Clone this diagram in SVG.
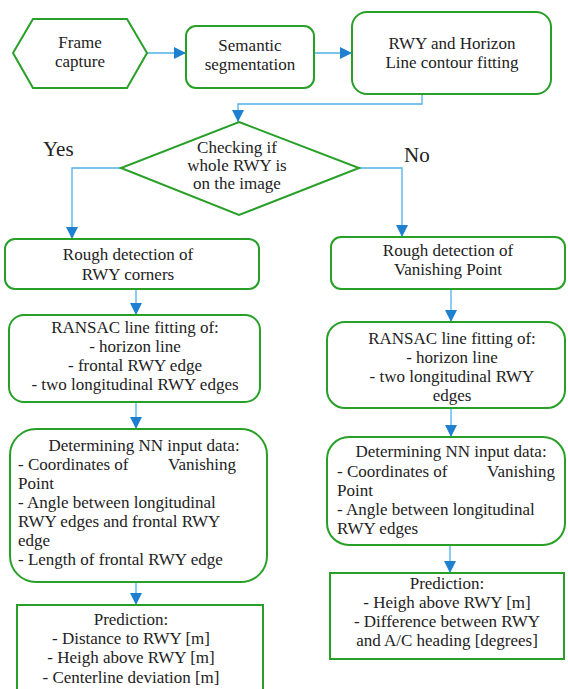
<svg xmlns="http://www.w3.org/2000/svg" width="568" height="689" viewBox="0 0 568 689">
<style>
.n{fill:#fff;stroke:#28a028;stroke-width:2}
.t{font-family:'Liberation Serif',serif;font-size:17px;fill:#222;text-anchor:middle}
.l{text-anchor:start}
.big{font-size:21px}
.c{fill:none;stroke:#4db0e8;stroke-width:1.3;marker-end:url(#ah)}
</style>
<defs>
<marker id="ah" markerUnits="userSpaceOnUse" markerWidth="12" markerHeight="12" refX="12" refY="6" orient="auto">
<path d="M0,0 L12,6 L0,12 Z" fill="#1f80d0"/>
</marker>
</defs>
<rect width="568" height="689" fill="#fff"/>
<g id="connectors">
<path class="c" d="M147,53 H186"/>
<path class="c" d="M314,53 H352"/>
<path class="c" d="M422,94 V104 H238 V122"/>
<path class="c" d="M121,168 H72 V239"/>
<path class="c" d="M359,168 H402 V237"/>
<path class="c" d="M136,289 V315"/>
<path class="c" d="M136,402 V429"/>
<path class="c" d="M136,582 V605"/>
<path class="c" d="M451,289 V322"/>
<path class="c" d="M451,408 V437"/>
<path class="c" d="M450,545 V573"/>
</g>
<g id="frame">
<polygon class="n" points="13,53 33,19 127,19 147,53 127,88 33,88"/>
<text class="t"><tspan x="80" y="48">Frame</tspan><tspan x="80" y="67">capture</tspan></text>
</g>
<g id="semantic">
<rect class="n" x="186" y="26" width="128" height="62" rx="10"/>
<text class="t"><tspan x="250" y="51">Semantic</tspan><tspan x="250" y="70">segmentation</tspan></text>
</g>
<g id="contour">
<rect class="n" x="352" y="12" width="199" height="82" rx="15"/>
<text class="t"><tspan x="452" y="49">RWY and Horizon</tspan><tspan x="452" y="68">Line contour fitting</tspan></text>
</g>
<g id="decision">
<polygon class="n" points="239,122 359,168 239,215 121,168"/>
<text class="t"><tspan x="237" y="153">Checking if</tspan><tspan x="237" y="171">whole RWY is</tspan><tspan x="237" y="189">on the image</tspan></text>
</g>
<g id="labels">
<text class="t l big" x="43" y="156">Yes</text>
<text class="t l big" x="404" y="162">No</text>
</g>
<g id="l1">
<rect class="n" x="5" y="239" width="254" height="50" rx="10"/>
<text class="t"><tspan x="128" y="260">Rough detection of</tspan><tspan x="128" y="280">RWY corners</tspan></text>
</g>
<g id="l2">
<rect class="n" x="9" y="315" width="251" height="87" rx="15"/>
<text class="t"><tspan x="135" y="333">RANSAC line fitting of:</tspan><tspan x="135" y="352">- horizon line</tspan><tspan x="135" y="371">- frontal RWY edge</tspan><tspan x="135" y="390">- two longitudinal RWY edges</tspan></text>
</g>
<g id="l3">
<rect class="n" x="10" y="429" width="257" height="153" rx="26"/>
<text class="t" x="144" y="451">Determining NN input data:</text>
<text class="t l"><tspan x="18" y="470">- Coordinates of</tspan><tspan x="168" y="470">Vanishing</tspan><tspan x="18" y="489">Point</tspan><tspan x="18" y="508">- Angle between longitudinal</tspan><tspan x="18" y="527">RWY edges and frontal RWY</tspan><tspan x="18" y="546">edge</tspan><tspan x="18" y="565">- Length of frontal RWY edge</tspan></text>
</g>
<g id="l4">
<rect class="n" x="17" y="605" width="246" height="100"/>
<text class="t"><tspan x="131" y="625">Prediction:</tspan><tspan x="131" y="644">- Distance to RWY [m]</tspan><tspan x="131" y="663">- Heigh above RWY [m]</tspan><tspan x="131" y="683">- Centerline deviation [m]</tspan></text>
</g>
<g id="r1">
<rect class="n" x="331" y="237" width="234" height="52" rx="10"/>
<text class="t"><tspan x="448" y="256">Rough detection of</tspan><tspan x="448" y="275">Vanishing Point</tspan></text>
</g>
<g id="r2">
<rect class="n" x="327" y="322" width="238" height="86" rx="18"/>
<text class="t"><tspan x="452" y="344">RANSAC line fitting of:</tspan><tspan x="452" y="363">- horizon line</tspan><tspan x="452" y="382">- two longitudinal RWY</tspan><tspan x="452" y="401">edges</tspan></text>
</g>
<g id="r3">
<rect class="n" x="327" y="437" width="238" height="108" rx="22"/>
<text class="t" x="451" y="457">Determining NN input data:</text>
<text class="t l"><tspan x="337" y="477">- Coordinates of</tspan><tspan x="487" y="477">Vanishing</tspan><tspan x="337" y="496">Point</tspan><tspan x="337" y="515">- Angle between longitudinal</tspan><tspan x="337" y="534">RWY edges</tspan></text>
</g>
<g id="r4">
<rect class="n" x="330" y="573" width="234" height="86"/>
<text class="t"><tspan x="447" y="589">Prediction:</tspan><tspan x="447" y="608">- Heigh above RWY [m]</tspan><tspan x="447" y="627">- Difference between RWY</tspan><tspan x="447" y="646">and A/C heading [degrees]</tspan></text>
</g>
</svg>
